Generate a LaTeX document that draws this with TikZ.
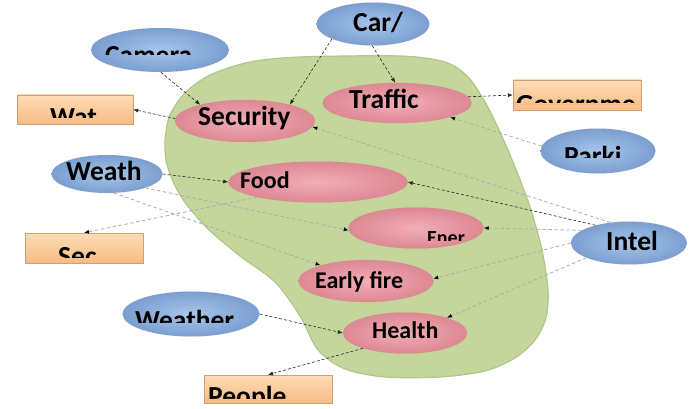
\documentclass[tikz,border=0pt]{standalone}
\usepackage{fontspec}
\setmainfont{Carlito}
\usepackage{tikz}
\usetikzlibrary{shapes.geometric, arrows.meta, positioning, calc}
\definecolor{blobgreen}{RGB}{196,214,155}
\definecolor{blobedge}{RGB}{176,198,138}
\definecolor{bluein}{RGB}{168,198,234}
\definecolor{blueout}{RGB}{122,158,208}
\definecolor{pinkin}{RGB}{241,174,180}
\definecolor{pinkout}{RGB}{222,136,148}
\definecolor{orangetop}{RGB}{253,220,182}
\definecolor{orangebot}{RGB}{246,188,132}

\begin{document}
\begin{tikzpicture}[x=1pt, y=-1pt,
  every node/.style={inner sep=0pt},
  srcnode/.style={ellipse, draw=gray!50, densely dotted, inner color=bluein, outer color=blueout},
  appnode/.style={ellipse, draw=pinkout!70!gray, densely dotted, inner color=pinkin, outer color=pinkout},
  outbox/.style={rectangle, draw=orangebot!85!black, top color=orangetop, bottom color=orangebot},
  bigtxt/.style={font=\fontsize{27.5}{30}\selectfont\bfseries},
  smalltxt/.style={font=\fontsize{24}{27}\selectfont\bfseries},
  link/.style={black!85, semithick, dash pattern=on 3pt off 2pt, -{Latex[length=5pt,width=4pt]}},
  faintlink/.style={gray!65, thick, dash pattern=on 3.5pt off 2.5pt, -{Latex[length=5pt,width=4pt,color=black]}},
]
  \useasboundingbox (0,0) rectangle (693,409);

  % The city area
  \draw[fill=blobgreen, draw=blobedge, line width=1.2pt] plot[smooth cycle] coordinates {
    (165,140) (170,115) (185,93) (210,75) (250,62) (300,57) (400,56) (445,62)
    (468,77) (485,102) (500,132) (515,167) (530,207) (542,250) (548,290)
    (546,318) (535,340) (515,358) (485,371) (440,377) (385,377) (345,369)
    (318,350) (300,316) (275,282) (240,256) (205,226) (180,195) (167,165)};

  % Data sources
  \node[srcnode, minimum width=138pt, minimum height=44pt] (camera) at (160,50) {};
  \node[srcnode, minimum width=113pt, minimum height=43pt] (car) at (373,24) {};
  \node[srcnode, minimum width=111pt, minimum height=38pt] (weath) at (107,174) {};
  \node[srcnode, minimum width=115pt, minimum height=45pt] (parki) at (598,151) {};
  \node[srcnode, minimum width=116pt, minimum height=43pt] (intel) at (629,243) {};
  \node[srcnode, minimum width=137pt, minimum height=45pt] (weather) at (191,314) {};

  % Services inside the area
  \node[appnode, minimum width=140pt, minimum height=42pt] (security) at (245,121) {};
  \node[appnode, minimum width=149pt, minimum height=40pt] (traffic) at (397,103) {};
  \node[appnode, minimum width=179pt, minimum height=41pt] (food) at (318,182) {};
  \node[appnode, minimum width=135pt, minimum height=41pt] (ener) at (416,228) {};
  \node[appnode, minimum width=135pt, minimum height=42pt] (early) at (366,281) {};
  \node[appnode, minimum width=124pt, minimum height=41pt] (health) at (405,333) {};

  % Outputs
  \node[outbox, minimum width=116pt, minimum height=29pt] (wat) at (75,109.5) {};
  \node[outbox, minimum width=128pt, minimum height=30pt] (gov) at (577,95) {};
  \node[outbox, minimum width=118pt, minimum height=30pt] (sec) at (84,248) {};
  \node[outbox, minimum width=128pt, minimum height=28pt] (people) at (268,389) {};

  % Labels
  \node[bigtxt, anchor=base west] (cartxt) at (353,32) {Car/};
  \node[bigtxt, anchor=base west] (weathtxt) at (66,180) {Weath};
  \node[bigtxt, anchor=base west] (inteltxt) at (606,250) {Intel};
  \node[bigtxt, anchor=base west] (securitytxt) at (198,125) {Security};
  \node[bigtxt, anchor=base west] (traffictxt) at (349,109) {Traffic};
  \node[smalltxt, anchor=base west] (foodtxt) at (240,188) {Food};
  \node[smalltxt, anchor=base west] (earlytxt) at (315,288) {Early fire};
  \node[smalltxt, anchor=base west] (healthtxt) at (372,338) {Health};

  % Labels cut off at the bottom
  \begin{scope}
    \clip (95,35) rectangle (225,55);
    \node[bigtxt, anchor=base west] (cameratxt) at (105,64.4) {Camera};
  \end{scope}
  \begin{scope}
    \clip (20,98) rectangle (130,118);
    \node[bigtxt, anchor=base west] (wattxt) at (50,126.7) {Wat};
  \end{scope}
  \begin{scope}
    \clip (514,84) rectangle (640,103);
    \node[bigtxt, anchor=base west] (govtxt) at (516,113.4) {Governme};
  \end{scope}
  \begin{scope}
    \clip (550,135) rectangle (650,157);
    \node[bigtxt, anchor=base west] (parkitxt) at (564,165.7) {Parki};
  \end{scope}
  \begin{scope}
    \clip (30,236) rectangle (140,257);
    \node[bigtxt, anchor=base west] (sectxt) at (58,265.7) {Sec};
  \end{scope}
  \begin{scope}
    \clip (420,222) rectangle (474,240.6);
    \node[font=\fontsize{20}{22}\selectfont\bfseries, anchor=base west] (enertxt) at (427,244.9) {Ener};
  \end{scope}
  \begin{scope}
    \clip (125,298) rectangle (255,322);
    \node[bigtxt, anchor=base west] (weathertxt) at (135,329.7) {Weather};
  \end{scope}
  \begin{scope}
    \clip (206,378) rectangle (330,398);
    \node[bigtxt, anchor=base west] (peopletxt) at (208,405.7) {People};
  \end{scope}

  % Data flows
  \draw[link] (camera.-88) -- (security.160);
  \draw[link] (car.200) -- (security.20);
  \draw[link] (car.-92) -- (traffic.95);
  \draw[link] (security.178) -- (wat.east);
  \draw[link] (traffic.5) -- (gov.west);
  \draw[faintlink] (parki.175) -- (traffic.-15);
  \draw[faintlink] (intel.132) -- (security.-5);
  \draw[link] (intel.152) -- (food.east);
  \draw[faintlink] (intel.165) -- (ener.east);
  \draw[faintlink] (intel.west) -- (early.2);
  \draw[faintlink] (intel.199) -- (health.20);
  \draw[link] (weath.east) -- (food.west);
  \draw[faintlink] (weath.-20) -- (ener.182);
  \draw[faintlink] (weath.-70) -- (early.161);
  \draw[faintlink] (food.194) -- (sec.north);
  \draw[link] (weather.east) -- (health.west);
  \draw[link] (health.200) -- (people.north);
\end{tikzpicture}
\end{document}
